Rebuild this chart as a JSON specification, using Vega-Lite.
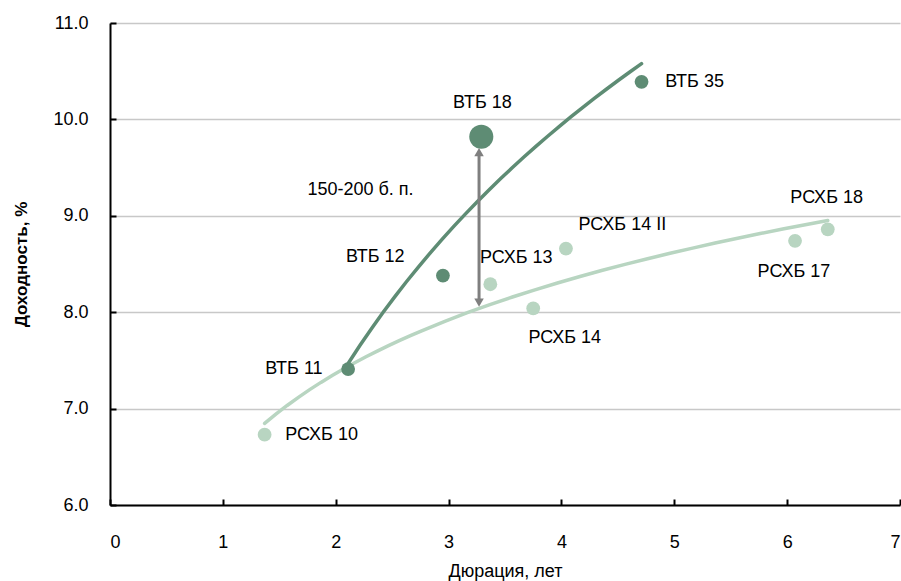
{
  "$schema": "https://vega.github.io/schema/vega-lite/v6.json",
  "width": 790,
  "height": 482,
  "autosize": {"type": "none"},
  "padding": {"left": 110, "top": 23, "right": 1, "bottom": 76},
  "background": "white",
  "config": {
    "view": {"stroke": null},
    "font": "Liberation Sans",
    "axis": {
      "labelFont": "Liberation Sans",
      "titleFont": "Liberation Sans",
      "labelColor": "#000000",
      "titleColor": "#000000",
      "labelFontSize": 18,
      "titleFontSize": 18,
      "titleFontWeight": "normal",
      "labelOverlap": false,
      "domainColor": "#000000",
      "domainWidth": 2,
      "tickColor": "#000000",
      "tickWidth": 2,
      "gridColor": "#c8c8c8",
      "gridWidth": 1.5
    }
  },
  "datasets": {
    "bonds": [
      {"name": "РСХБ 10", "issuer": "РСХБ", "duration": 1.37, "yield": 6.73},
      {"name": "РСХБ 13", "issuer": "РСХБ", "duration": 3.37, "yield": 8.29},
      {"name": "РСХБ 14", "issuer": "РСХБ", "duration": 3.75, "yield": 8.04},
      {"name": "РСХБ 14 II", "issuer": "РСХБ", "duration": 4.04, "yield": 8.66},
      {"name": "РСХБ 17", "issuer": "РСХБ", "duration": 6.07, "yield": 8.74},
      {"name": "РСХБ 18", "issuer": "РСХБ", "duration": 6.36, "yield": 8.86},
      {"name": "ВТБ 11", "issuer": "ВТБ", "duration": 2.11, "yield": 7.41},
      {"name": "ВТБ 12", "issuer": "ВТБ", "duration": 2.95, "yield": 8.38},
      {"name": "ВТБ 18", "issuer": "ВТБ", "duration": 3.29, "yield": 9.82},
      {"name": "ВТБ 35", "issuer": "ВТБ", "duration": 4.71, "yield": 10.39}
    ],
    "labels": [
      {"text": "РСХБ 10", "x": 1.875, "y": 6.73},
      {"text": "РСХБ 13", "x": 3.60, "y": 8.56},
      {"text": "РСХБ 14", "x": 4.03, "y": 7.73},
      {"text": "РСХБ 14 II", "x": 4.54, "y": 8.90},
      {"text": "РСХБ 17", "x": 6.06, "y": 8.42},
      {"text": "РСХБ 18", "x": 6.35, "y": 9.18},
      {"text": "ВТБ 11", "x": 1.63, "y": 7.41},
      {"text": "ВТБ 12", "x": 2.35, "y": 8.57},
      {"text": "ВТБ 18", "x": 3.30, "y": 10.17},
      {"text": "ВТБ  35", "x": 5.18, "y": 10.39},
      {"text": "150-200 б. п.", "x": 2.22, "y": 9.27}
    ],
    "arrow": [
      {"x": 3.27, "from": 8.1, "to": 9.66}
    ]
  },
  "layer": [
    {
      "data": {"name": "bonds"},
      "transform": [
        {"regression": "yield", "on": "duration", "groupby": ["issuer"], "method": "log"}
      ],
      "mark": {"type": "line", "strokeWidth": 3.5, "strokeCap": "round"},
      "encoding": {
        "x": {
          "field": "duration", "type": "quantitative",
          "scale": {"domain": [0, 7], "nice": false, "zero": false},
          "axis": {
            "title": "Дюрация, лет", "grid": false, "format": "d",
            "values": [0, 1, 2, 3, 4, 5, 6, 7],
            "tickSize": -6, "labelPadding": 34, "titlePadding": 11
          }
        },
        "y": {
          "field": "yield", "type": "quantitative",
          "scale": {"domain": [6, 11], "nice": false, "zero": false},
          "axis": {
            "title": "Доходность, %", "format": ".1f",
            "values": [6, 7, 8, 9, 10, 11],
            "tickSize": -6, "labelPadding": 28, "titlePadding": 22,
            "titleFontWeight": "bold", "titleFontSize": 17
          }
        },
        "color": {
          "field": "issuer", "type": "nominal",
          "scale": {"domain": ["ВТБ", "РСХБ"], "range": ["#5e8c74", "#b8d5c1"]},
          "legend": null
        }
      }
    },
    {
      "data": {"name": "arrow"},
      "mark": {"type": "rule", "color": "#7f7f7f", "strokeWidth": 3},
      "encoding": {
        "x": {"field": "x", "type": "quantitative"},
        "y": {"field": "from", "type": "quantitative"},
        "y2": {"field": "to"}
      }
    },
    {
      "data": {"name": "arrow"},
      "mark": {"type": "point", "shape": "triangle-up", "filled": true, "color": "#7f7f7f", "size": 90, "opacity": 1},
      "encoding": {
        "x": {"field": "x", "type": "quantitative"},
        "y": {"field": "to", "type": "quantitative"}
      }
    },
    {
      "data": {"name": "arrow"},
      "mark": {"type": "point", "shape": "triangle-down", "filled": true, "color": "#7f7f7f", "size": 90, "opacity": 1},
      "encoding": {
        "x": {"field": "x", "type": "quantitative"},
        "y": {"field": "from", "type": "quantitative"}
      }
    },
    {
      "data": {"name": "bonds"},
      "mark": {"type": "circle", "opacity": 1},
      "encoding": {
        "x": {"field": "duration", "type": "quantitative"},
        "y": {"field": "yield", "type": "quantitative"},
        "color": {"field": "issuer", "type": "nominal", "legend": null},
        "size": {
          "condition": {"test": "datum.name === 'ВТБ 18'", "value": 580},
          "value": 190
        }
      }
    },
    {
      "data": {"name": "labels"},
      "mark": {"type": "text", "fontSize": 18, "color": "#000000", "align": "center", "baseline": "middle"},
      "encoding": {
        "x": {"field": "x", "type": "quantitative"},
        "y": {"field": "y", "type": "quantitative"},
        "text": {"field": "text"}
      }
    }
  ]
}
